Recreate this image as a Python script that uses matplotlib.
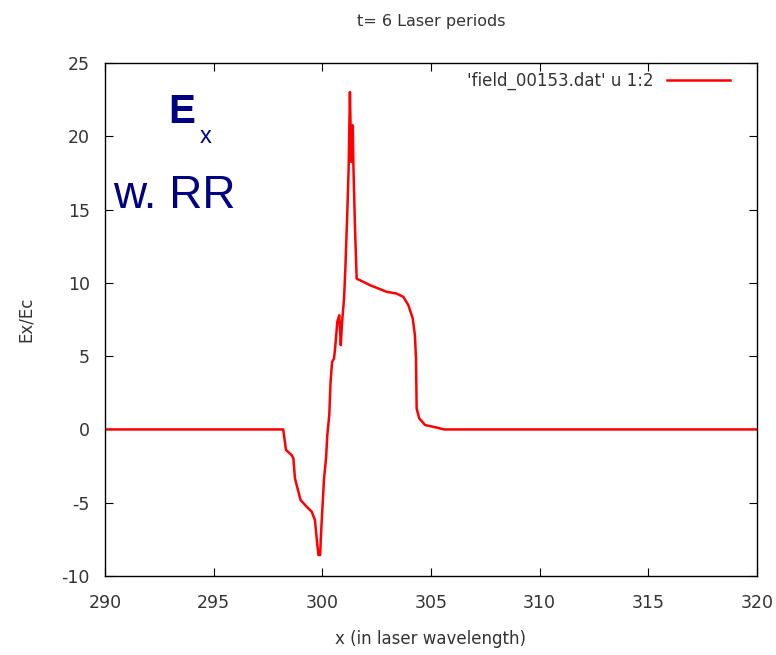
import numpy as np
import matplotlib
matplotlib.use('Agg')
import matplotlib.pyplot as plt

# field profile (x in laser wavelengths, Ex/Ec)
x_vals = [290.0, 298.2, 298.33, 298.59, 298.67, 298.74, 298.9, 299.0, 299.28, 299.51,
          299.66, 299.74, 299.82, 299.9, 299.93, 300.02, 300.08, 300.17, 300.23, 300.32,
          300.38, 300.45, 300.54, 300.6, 300.69, 300.78, 300.85, 300.91, 301.0, 301.06,
          301.15, 301.21, 301.27, 301.33, 301.4, 301.43, 301.5, 301.58, 302.2, 302.96,
          303.42, 303.73, 303.96, 304.16, 304.26, 304.31, 304.34, 304.46, 304.73, 305.1,
          305.42, 305.6, 320.0]
ex_vals = [0.0, 0.0, -1.41, -1.75, -1.98, -3.34, -4.25, -4.82, -5.27, -5.61,
           -6.18, -7.43, -8.57, -8.57, -7.43, -4.93, -3.34, -1.98, -0.39, 0.98,
           3.25, 4.61, 4.84, 5.75, 7.34, 7.79, 5.75, 7.34, 8.93, 10.97,
           14.84, 17.79, 23.02, 18.25, 20.75, 18.02, 13.93, 10.29, 9.84, 9.39,
           9.27, 9.04, 8.47, 7.57, 6.43, 4.84, 1.43, 0.75, 0.3, 0.18,
           0.07, 0.0, 0.0]
x_ticks = [290, 295, 300, 305, 310, 315, 320]
y_ticks = [-10, -5, 0, 5, 10, 15, 20, 25]

plt.rcParams['font.family'] = ['DejaVu Sans']
plt.rcParams['axes.unicode_minus'] = False
fig = plt.figure(figsize=(7.76, 6.55), dpi=100)
ax = fig.add_axes([0.1353, 0.1206, 0.8402, 0.7832])

ax.plot(x_vals, ex_vals, color='red', lw=1.8, label="'field_00153.dat' u 1:2")
ax.set_xlim(290, 320)
ax.set_ylim(-10, 25)
ax.set_xticks(x_ticks)
ax.set_yticks(y_ticks)
ax.tick_params(direction='in', top=True, right=True, length=6, labelsize=12.5,
               labelcolor='#333333')
ax.tick_params(axis='x', pad=13)
ax.tick_params(axis='y', pad=11)
for s in ax.spines.values():
    s.set_linewidth(1.0)

ax.set_title('t= 6 Laser periods', fontsize=11.5, color='#333333', pad=27)
ax.set_xlabel('x (in laser wavelength)', fontsize=12, color='#333333', labelpad=13)
ax.set_ylabel('Ex/Ec', fontsize=12, color='#333333', labelpad=19)

ax.legend(loc='upper right', frameon=False, markerfirst=False, fontsize=12,
          handlelength=3.8, borderaxespad=0.1, labelcolor='#333333',
          bbox_to_anchor=(0.972, 1.0))

ax.text(0.097, 0.905, 'E', transform=ax.transAxes, fontsize=29, fontweight='bold',
        color='navy', ha='left', va='center', family='Liberation Sans')
ax.text(0.146, 0.855, 'x', transform=ax.transAxes, fontsize=17,
        color='navy', ha='left', va='center', family='Liberation Sans')
ax.text(0.012, 0.74, 'w. RR', transform=ax.transAxes, fontsize=33,
        color='navy', ha='left', va='center', family='Liberation Sans')

fig.savefig('out.png', dpi=100)
